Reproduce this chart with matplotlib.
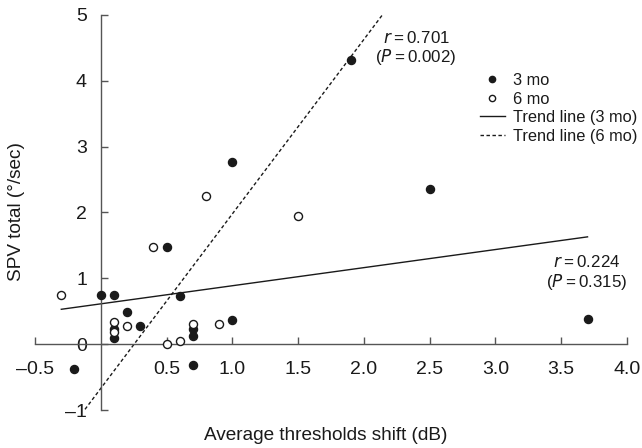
import matplotlib
matplotlib.use("Agg")
import matplotlib.pyplot as plt
from matplotlib.lines import Line2D

plt.rcParams['font.family'] = ['Liberation Sans', 'DejaVu Sans']

# 3-month data (filled)
x3 = [-0.2, 0.0, 0.1, 0.2, 0.1, 0.1, 0.3, 0.5, 0.6, 0.7, 0.7, 0.7, 1.0, 1.0, 1.9, 2.5, 3.7]
y3 = [-0.38, 0.74, 0.74, 0.49, 0.23, 0.09, 0.27, 1.48, 0.73, 0.23, 0.12, -0.31, 0.36, 2.76, 4.31, 2.36, 0.38]
# 6-month data (open)
x6 = [-0.3, 0.1, 0.1, 0.2, 0.4, 0.5, 0.6, 0.7, 0.8, 0.9, 1.5]
y6 = [0.74, 0.33, 0.18, 0.27, 1.47, 0.0, 0.05, 0.31, 2.25, 0.31, 1.95]

# trend lines (end points)
trend3_x = [-0.3, 3.7]
trend3_y = [0.53, 1.63]
trend6_x = [-0.12, 2.14]
trend6_y = [-0.99, 5.0]

xticks = [-0.5, 0.5, 1.0, 1.5, 2.0, 2.5, 3.0, 3.5, 4.0]
xticklabels = ['\u20130.5', '0.5', '1.0', '1.5', '2.0', '2.5', '3.0', '3.5', '4.0']
yticks = [-1, 0, 1, 2, 3, 4, 5]
yticklabels = ['\u20131', '0', '1', '2', '3', '4', '5']

fig = plt.figure(figsize=(6.42, 4.48), dpi=100)
W, H = 642, 448
x0, x1 = 35, 627
ytop, ybot = 15, 410
ax = fig.add_axes([x0 / W, (H - ybot) / H, (x1 - x0) / W, (ybot - ytop) / H])
ax.set_xlim(-0.5, 4.0)
ax.set_ylim(-1, 5)

ink = '#1a1a1a'
ax.plot(trend3_x, trend3_y, color=ink, lw=1.0, clip_on=False)
ax.plot(trend6_x, trend6_y, color=ink, lw=1.0, ls=(0, (2.5, 1.8)), clip_on=False)
ax.plot(x3, y3, 'o', ms=5.8, color=ink, mec=ink, clip_on=False, zorder=3)
ax.plot(x6, y6, 'o', ms=5.8, mfc='white', mec=ink, mew=1.0, clip_on=False, zorder=3)

for s in ['top', 'right']:
    ax.spines[s].set_visible(False)
ax.spines['left'].set_position(('data', 0))
ax.spines['bottom'].set_position(('data', 0))
ax.spines['left'].set_bounds(-1, 5)
ax.spines['bottom'].set_bounds(-0.5, 4.0)
for s in ['left', 'bottom']:
    ax.spines[s].set_color('#555555')
    ax.spines[s].set_linewidth(1.0)

ax.set_xticks(xticks)
ax.set_xticklabels(xticklabels)
ax.set_yticks(yticks)
ax.set_yticklabels(yticklabels)
ax.tick_params(axis='x', direction='in', length=5, width=1.0, color='#555555', pad=12, labelsize=14, labelcolor=ink)
ax.tick_params(axis='y', direction='in', length=5, width=1.0, color='#555555', pad=10, labelsize=14, labelcolor=ink)

fig.text(17 / W, 1 - 212 / H, 'SPV total (\u00b0/sec)', rotation=90, ha='center', va='center', fontsize=13.7, color=ink)
fig.text(326 / W, 1 - 435 / H, 'Average thresholds shift (dB)', ha='center', va='center', fontsize=13.7, color=ink)

ts = '\u2009'
fig.text(416 / W, 1 - 38 / H, '$\\it{r}$' + ts + '=' + ts + '0.701', ha='center', va='center', fontsize=12.2, color=ink)
fig.text(416 / W, 1 - 57 / H, '($\\it{P}$' + ts + '=' + ts + '0.002)', ha='center', va='center', fontsize=12.2, color=ink)
fig.text(587 / W, 1 - 262 / H, '$\\it{r}$' + ts + '=' + ts + '0.224', ha='center', va='center', fontsize=12.2, color=ink)
fig.text(587 / W, 1 - 282 / H, '($\\it{P}$' + ts + '=' + ts + '0.315)', ha='center', va='center', fontsize=12.2, color=ink)

handles = [
    Line2D([], [], marker='o', ls='none', ms=4.5, color=ink),
    Line2D([], [], marker='o', ls='none', ms=4.5, mfc='white', mec=ink, mew=1.0),
    Line2D([], [], color=ink, lw=1.0),
    Line2D([], [], color=ink, lw=1.0, ls=(0, (2.5, 1.8))),
]
labels = ['3 mo', '6 mo', 'Trend line (3 mo)', 'Trend line (6 mo)']
fig.legend(handles, labels, loc='upper left', bbox_to_anchor=(480 / W, 1 - 73 / H),
           frameon=False, fontsize=11.8, handlelength=1.5, handletextpad=0.5,
           labelspacing=0.22, borderpad=0, borderaxespad=0, labelcolor=ink)

fig.savefig('out.png', dpi=100)
